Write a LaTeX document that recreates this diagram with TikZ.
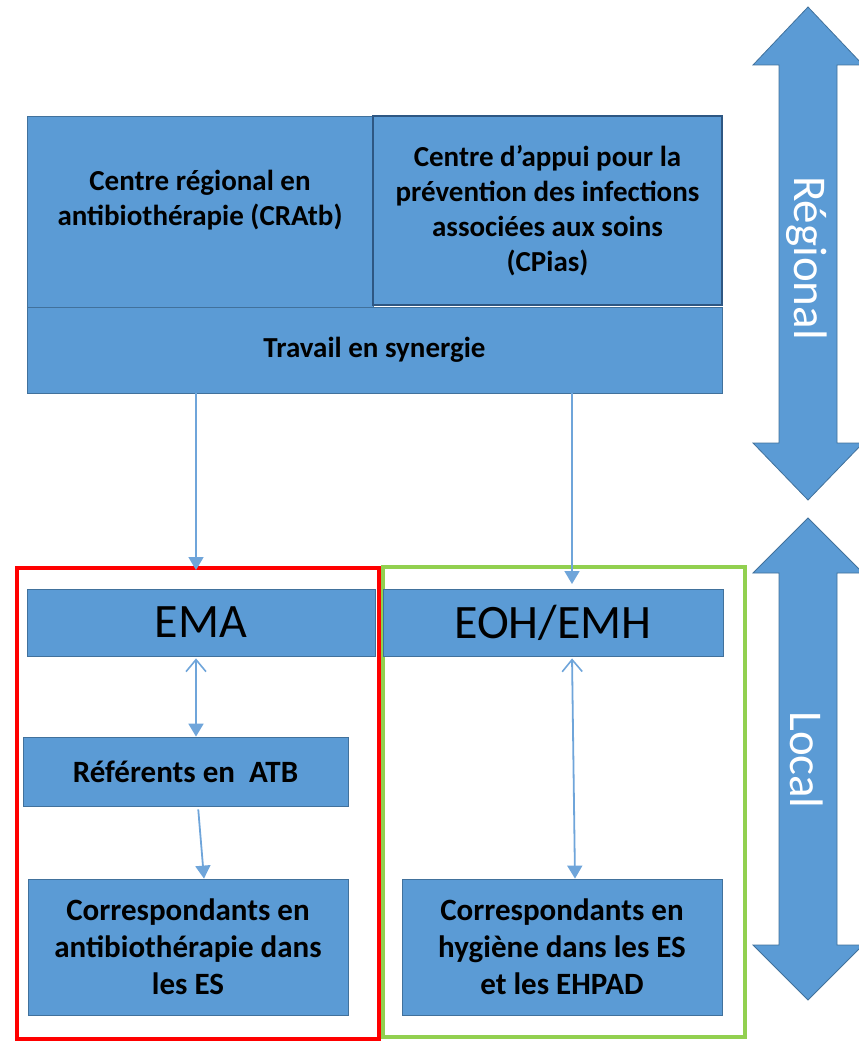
\documentclass[tikz,border=0pt]{standalone}
\usepackage{fontspec}
\setmainfont{Carlito}
\usetikzlibrary{arrows.meta}
\definecolor{boxblue}{HTML}{5B9BD5}
\definecolor{boxedge}{HTML}{41719C}
\definecolor{darkedge}{HTML}{2E5783}
\definecolor{linkblue}{HTML}{6FA5DA}
\definecolor{framegreen}{HTML}{92D050}
\definecolor{framered}{HTML}{FF0000}
\begin{document}
\begin{tikzpicture}[x=1pt,y=-1pt,
  box/.style={draw=boxedge, fill=boxblue, line width=0.8pt, inner sep=0pt, align=center,
    font=\bfseries\fontsize{31}{37}\selectfont},
  topbox/.style={box, font=\bfseries\fontsize{29}{35}\selectfont},
  bigbox/.style={box, font=\fontsize{48}{56}\selectfont},
  toptext/.style={inner sep=0pt, align=center, font=\bfseries\fontsize{29}{35}\selectfont},
  link/.style={draw=linkblue, line width=1.8pt, -{Triangle[width=15pt,length=13pt]}},
  dlink/.style={link, {Straight Barb[width=20pt,length=12pt,line width=1.6pt]}-{Triangle[width=15pt,length=13pt]}},
  bigarrow/.style={fill=boxblue, draw=boxedge, line width=0.8pt},
  sidetext/.style={text=white, rotate=-90, inner sep=0pt, font=\fontsize{47}{50}\selectfont},
  frame/.style={line width=3.5pt}
]
\useasboundingbox (0,0) rectangle (859,1041);

% regional top block
\node[topbox, minimum width=346pt, minimum height=191pt] (cratb) at (200,211.5) {};
\node[toptext] (cratbtxt) at (200,200) {Centre régional en\\antibiothérapie (CRAtb)};
\node[topbox, draw=darkedge, line width=1.5pt, minimum width=349pt, minimum height=189pt] (cpias) at (547.5,210.5)
  {Centre d’appui pour la\\prévention des infections\\associées aux soins\\(CPias)};
\node[topbox, minimum width=695pt, minimum height=86pt] (syn) at (374.5,350) {Travail en synergie};

% frames
\draw[frame, framered] (17,568) rectangle (379,1039);
\draw[frame, framegreen] (383,567) rectangle (745,1037);

% local boxes
\node[bigbox, minimum width=348pt, minimum height=67pt] (ema) at (201,622.5) {EMA};
\node[bigbox, minimum width=340pt, minimum height=67pt] (eoh) at (553,622.5) {EOH/EMH};
\node[box, minimum width=325pt, minimum height=69pt] (ref) at (185.5,771.5) {Référents en~~ATB};
\node[box, minimum width=320pt, minimum height=136pt] (corratb) at (188,947)
  {Correspondants en\\antibiothérapie dans\\les ES};
\node[box, minimum width=320pt, minimum height=136pt] (corrhyg) at (562,947)
  {Correspondants en\\hygiène dans les ES\\et les EHPAD};

% connectors
\coordinate (xl) at (196,0);
\coordinate (xr) at (572,0);
\coordinate (xr2) at (575,0);
\coordinate (xl2) at (198,0);
\coordinate (xl3) at (204,0);
\coordinate (emaend) at (196,570);
\coordinate (eohend) at (572,584);
\draw[link] (syn.south -| xl) -- (emaend);
\draw[link] (syn.south -| xr) -- (eohend);
\draw[dlink, shorten <=2pt] (ema.south -| xl) -- (ref.north -| xl);
\draw[link, shorten <=3pt] (ref.south -| xl2) -- (corratb.north -| xl3);
\draw[dlink, shorten <=2pt] (eoh.south -| xr) -- (corrhyg.north -| xr2);

% side arrows
\draw[bigarrow] (808,7) -- (863,65) -- (837,65) -- (837,443) -- (863,443) -- (808,500)
  -- (753,443) -- (779,443) -- (779,65) -- (753,65) -- cycle;
\draw[bigarrow] (808,518) -- (863,573) -- (837,573) -- (837,945) -- (863,945) -- (808,1000)
  -- (753,945) -- (779,945) -- (779,573) -- (753,573) -- cycle;
\node[sidetext] (reg) at (807,258) {Régional};
\node[sidetext] (loc) at (807,760) {Local};
\end{tikzpicture}
\end{document}
